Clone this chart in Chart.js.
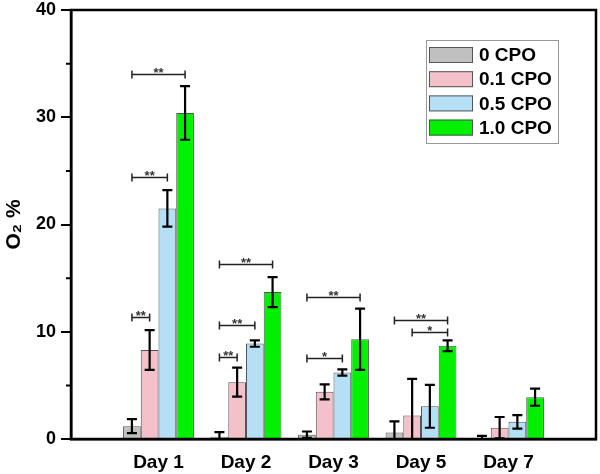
<!DOCTYPE html>
<html>
<head>
<meta charset="utf-8">
<script src="https://cdn.jsdelivr.net/npm/chart.js@4.4.0/dist/chart.umd.min.js"></script>
<style>
  body { margin: 0; background: #fff; }
</style>
</head>
<body>
<canvas id="o2Chart" width="600" height="474"></canvas>
<script>
var days = ["Day 1", "Day 2", "Day 3", "Day 5", "Day 7"];
var seriesNames = ["0 CPO", "0.1 CPO", "0.5 CPO", "1.0 CPO"];
var cpo0 = [1.2, 0.2, 0.4, 0.6, 0.1];
var cpo0Err = [0.65, 0.45, 0.3, 1.05, 0.2];
var cpo01 = [8.3, 5.3, 4.4, 2.2, 1.05];
var cpo01Err = [1.85, 1.35, 0.7, 3.4, 1.0];
var cpo05 = [21.5, 8.9, 6.2, 3.05, 1.6];
var cpo05Err = [1.7, 0.3, 0.3, 2.0, 0.63];
var cpo10 = [30.4, 13.7, 9.3, 8.7, 3.9];
var cpo10Err = [2.5, 1.4, 2.85, 0.5, 0.8];
var yMajorTicks = [0, 10, 20, 30, 40];
var yMinorTicks = [5, 15, 25, 35];

// significance brackets: [day index, from series, to series, y value, label]
var brackets = [
  [0, 0, 1, 11.4, "**"], [0, 0, 2, 24.4, "**"], [0, 0, 3, 34.0, "**"],
  [1, 0, 1, 7.6, "**"], [1, 0, 2, 10.6, "**"], [1, 0, 3, 16.3, "**"],
  [2, 0, 2, 7.55, "*"], [2, 0, 3, 13.2, "**"],
  [3, 0, 3, 11.06, "**"], [3, 1, 3, 10.0, "*"]
];

var colors = ["#c0c0c0", "#f4c1ca", "#b4dff5", "#00f000"];
var FONT = "'Liberation Sans', Arial, sans-serif";

// pad an empty slot on each side so the groups sit in from the frame
function pad(arr) { return [null].concat(arr, [null]); }
var values = [cpo0, cpo01, cpo05, cpo10];
var errors = [cpo0Err, cpo01Err, cpo05Err, cpo10Err];

var extras = {
  id: "extras",
  afterDatasetsDraw: function(chart) {
    var ctx = chart.ctx, y = chart.scales.y;
    ctx.save();
    // error bars
    ctx.strokeStyle = "#000";
    ctx.lineWidth = 2.2;
    for (var s = 0; s < values.length; s++) {
      var meta = chart.getDatasetMeta(s);
      for (var i = 0; i < days.length; i++) {
        var bar = meta.data[i + 1];
        var hi = y.getPixelForValue(values[s][i] + errors[s][i]);
        var lo = y.getPixelForValue(Math.max(0, values[s][i] - errors[s][i]));
        ctx.beginPath();
        ctx.moveTo(bar.x, hi); ctx.lineTo(bar.x, lo);
        ctx.moveTo(bar.x - 5, hi); ctx.lineTo(bar.x + 5, hi);
        ctx.moveTo(bar.x - 5, lo); ctx.lineTo(bar.x + 5, lo);
        ctx.stroke();
      }
    }
    // brackets
    ctx.strokeStyle = "#222";
    ctx.fillStyle = "#333";
    ctx.lineWidth = 1.5;
    ctx.font = "bold 13px " + FONT;
    ctx.textAlign = "center";
    ctx.textBaseline = "alphabetic";
    brackets.forEach(function(b) {
      var x1 = chart.getDatasetMeta(b[1]).data[b[0] + 1].x;
      var x2 = chart.getDatasetMeta(b[2]).data[b[0] + 1].x;
      var py = Math.round(y.getPixelForValue(b[3])) + 0.5;
      ctx.beginPath();
      ctx.moveTo(x1, py); ctx.lineTo(x2, py);
      ctx.moveTo(x1, py - 4); ctx.lineTo(x1, py + 4);
      ctx.moveTo(x2, py - 4); ctx.lineTo(x2, py + 4);
      ctx.stroke();
      ctx.fillText(b[4], (x1 + x2) / 2, py + 2);
    });
    ctx.restore();
  },
  afterDraw: function(chart) {
    var ctx = chart.ctx, a = chart.chartArea, y = chart.scales.y;
    ctx.save();
    // frame
    ctx.strokeStyle = "#000";
    ctx.lineWidth = 2.5;
    ctx.strokeRect(a.left, a.top, a.right - a.left, a.bottom - a.top);
    // minor ticks
    ctx.beginPath();
    yMinorTicks.forEach(function(v) {
      var py = y.getPixelForValue(v);
      ctx.moveTo(a.left - 5, py); ctx.lineTo(a.left, py);
    });
    ctx.lineWidth = 2;
    ctx.stroke();
    // legend
    var bx = a.right - 170, by = a.top + 30;
    ctx.strokeStyle = "#999";
    ctx.lineWidth = 1;
    ctx.strokeRect(bx + 0.5, by + 0.5, 132, 103);
    ctx.font = "bold 19px " + FONT;
    ctx.textAlign = "left";
    ctx.textBaseline = "middle";
    for (var s = 0; s < seriesNames.length; s++) {
      var cy = by + 15 + s * 24.2;
      ctx.fillStyle = colors[s];
      ctx.fillRect(bx + 3, cy - 8, 44, 16);
      ctx.strokeStyle = "#555";
      ctx.strokeRect(bx + 3.5, cy - 7.5, 43, 15);
      ctx.fillStyle = "#000";
      ctx.fillText(seriesNames[s], bx + 53, cy + 1);
    }
    ctx.restore();
  }
};

var chart = new Chart("o2Chart", {
  type: "bar",
  data: {
    labels: pad(days).map(function(d) { return d || ""; }),
    datasets: values.map(function(v, s) {
      return {
        label: seriesNames[s],
        data: pad(v),
        backgroundColor: colors[s],
        borderColor: "#555",
        borderWidth: 1,
        categoryPercentage: 0.81,
        barPercentage: 1
      };
    })
  },
  options: {
    responsive: false,
    animation: false,
    layout: {padding: {top: 10, right: 4, left: 0, bottom: 0}},
    plugins: {legend: {display: false}, tooltip: {enabled: false}},
    scales: {
      x: {
        offset: false,
        grid: {display: false},
        border: {display: true, color: "#000", width: 2.5},
        ticks: {color: "#000", padding: 4, maxRotation: 0, autoSkip: false,
                font: {family: FONT, size: 19, weight: "bold"}},
        afterFit: function(s) { s.height = 35; s.paddingLeft = 0; s.paddingRight = 0; }
      },
      y: {
        min: 0,
        max: 40,
        border: {display: true, color: "#000", width: 2.5},
        grid: {drawOnChartArea: false, tickLength: 10, lineWidth: 2,
               tickColor: function(c) {
                 return yMajorTicks.indexOf(c.tick.value) >= 0 ? "#000" : "rgba(0,0,0,0)";
               }},
        ticks: {stepSize: 5, padding: 5, color: "#000",
                font: {family: FONT, size: 18, weight: "bold"},
                callback: function(v) { return yMajorTicks.indexOf(v) >= 0 ? v : ""; }},
        title: {display: true, text: "O\u2082 %", color: "#000", padding: {top: 2, bottom: 0},
                font: {family: FONT, size: 21, weight: "bold"}},
        afterFit: function(s) { s.width = 71; s.paddingTop = 0; s.paddingBottom = 0; }
      }
    }
  },
  plugins: [extras]
});
</script>
</body>
</html>
